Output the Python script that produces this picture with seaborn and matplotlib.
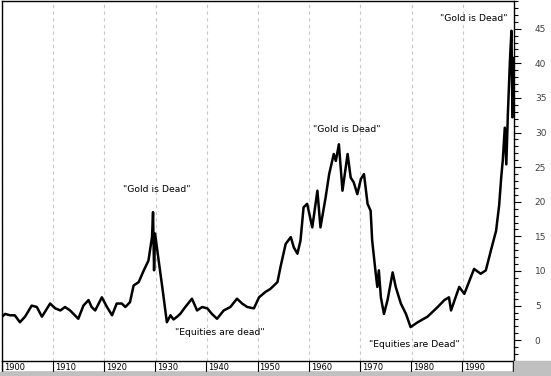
import seaborn as sns
import matplotlib.pyplot as plt
import pandas as pd
import numpy as np
from matplotlib.patches import Rectangle
from matplotlib.ticker import MultipleLocator

# Dow / Gold ratio
years = [1900.0, 1900.6, 1901.6, 1902.5, 1903.5, 1904.5, 1905.8, 1906.8, 1907.8, 1909.4,
         1910.4, 1911.4, 1912.3, 1913.3, 1914.9, 1915.9, 1916.9, 1917.5, 1918.2, 1919.5,
         1920.5, 1921.5, 1922.4, 1923.4, 1924.1, 1925.0, 1925.7, 1926.7, 1927.7, 1928.6,
         1929.3, 1929.5, 1929.7, 1929.9, 1930.6, 1931.3, 1931.9, 1932.2, 1932.9, 1933.5,
         1934.2, 1934.8, 1935.8, 1937.1, 1938.1, 1939.1, 1940.1, 1941.0, 1942.0, 1943.3,
         1944.6, 1945.9, 1946.9, 1947.9, 1949.2, 1950.2, 1951.5, 1952.4, 1953.8, 1954.4,
         1955.4, 1956.4, 1957.0, 1957.7, 1958.3, 1958.9, 1959.6, 1960.6, 1961.6, 1962.2,
         1963.2, 1963.9, 1964.8, 1965.2, 1965.8, 1966.5, 1967.5, 1968.1, 1968.7, 1969.4,
         1970.1, 1970.7, 1971.4, 1972.0, 1972.3, 1973.0, 1973.3, 1973.6, 1974.0, 1974.6,
         1975.3, 1976.3, 1976.9, 1977.9, 1978.9, 1979.8, 1981.2, 1983.1, 1985.1, 1986.4,
         1987.3, 1987.7, 1989.3, 1990.3, 1991.3, 1992.2, 1993.5, 1994.5, 1995.5, 1996.5,
         1997.1, 1997.5, 1997.8, 1998.2, 1998.5, 1998.8, 1999.2, 1999.5, 1999.7, 1999.8,
         2000.0]
ratio = [3.4, 3.8, 3.6, 3.6, 2.6, 3.4, 5.0, 4.8, 3.4, 5.3,
         4.6, 4.3, 4.8, 4.3, 3.1, 5.0, 5.8, 4.8, 4.3, 6.2,
         4.8, 3.6, 5.3, 5.3, 4.8, 5.5, 7.9, 8.4, 10.1, 11.5,
         14.9, 18.5, 10.1, 15.4, 11.5, 7.7, 4.3, 2.6, 3.6, 3.0,
         3.4, 3.8, 4.8, 6.0, 4.3, 4.8, 4.6, 3.8, 3.1, 4.3,
         4.8, 6.0, 5.3, 4.8, 4.6, 6.2, 7.0, 7.4, 8.4, 10.6,
         13.9, 14.9, 13.4, 12.5, 14.4, 19.2, 19.7, 16.3, 21.6, 16.3,
         20.6, 24.0, 26.9, 25.9, 28.3, 21.6, 26.9, 23.5, 22.8, 21.1,
         23.3, 24.0, 19.7, 18.7, 14.4, 9.6, 7.7, 10.1, 6.2, 3.8,
         5.8, 9.8, 7.7, 5.3, 3.8, 1.9, 2.6, 3.4, 4.8, 5.8,
         6.2, 4.3, 7.7, 6.7, 8.6, 10.3, 9.6, 10.1, 13.0, 15.8,
         19.5, 23.5, 25.9, 30.7, 25.4, 32.6, 40.3, 44.7, 32.2, 40.8,
         33.1]
decades = list(range(1900, 2000, 10))
notes = ['"Gold is Dead"', '"Equities are dead"', '"Gold is Dead"',
         '"Equities are Dead"', '"Gold is Dead"']
note_x = [1930.3, 1942.5, 1967.3, 1980.6, 1992.2]
note_y = [21.8, 1.1, 30.5, -0.6, 46.5]

df = pd.DataFrame({'year': years, 'ratio': ratio})

sns.set_style('white')
plt.rcParams['font.family'] = ['DejaVu Sans']

W, H = 551, 376
fig = plt.figure(figsize=(W / 100, H / 100), dpi=100)
fig.patches.append(Rectangle((0, 0), 1, 4 / H, transform=fig.transFigure,
                             color='#c0c0c0', zorder=0))
fig.patches.append(Rectangle((514 / W, 0), 1, 15 / H, transform=fig.transFigure,
                             color='#c0c0c0', zorder=0))

ax = fig.add_axes([2 / W, 15 / H, 512 / W, 360 / H])
sns.lineplot(data=df, x='year', y='ratio', color='black', lw=1.8, ax=ax)
ax.set_xlim(1900, 2000)
ax.set_ylim(-3.0, 49)
ax.set_xticks(decades)
ax.xaxis.grid(True, ls=(0, (3, 3)), color='#c8c8c8', lw=0.8)
ax.tick_params(axis='x', length=0, labelbottom=False)
ax.yaxis.tick_right()
ax.yaxis.set_major_locator(MultipleLocator(5))
ax.yaxis.set_minor_locator(MultipleLocator(1))
ax.set_yticks(range(0, 50, 5))
ax.tick_params(axis='y', which='major', direction='out', length=5, width=0.8,
               color='black', labelsize=6.5, labelcolor='#404040', pad=10)
ax.tick_params(axis='y', which='minor', direction='out', length=3, width=0.8,
               color='black', right=True)
ax.set_xlabel('')
ax.set_ylabel('')
for side in ['left', 'top', 'right']:
    ax.spines[side].set_color('black')
    ax.spines[side].set_linewidth(1)
ax.spines['bottom'].set_visible(False)

for t, x, y in zip(notes, note_x, note_y):
    ax.text(x, y, t, ha='center', va='center', fontsize=6.7, color='black')

# date strip
sx = fig.add_axes([2 / W, 4 / H, 511 / W, 11 / H])
sx.set_xlim(1900, 2000)
sx.set_ylim(0, 1)
sx.set_xticks([])
sx.set_yticks([])
for s in sx.spines.values():
    s.set_color('black')
    s.set_linewidth(1)
for d in decades:
    sx.axvline(d, color='black', lw=0.8)
    sx.text(d + 0.4, 0.45, str(d), ha='left', va='center', fontsize=6,
            color='black')

fig.savefig('out.png', dpi=100)
